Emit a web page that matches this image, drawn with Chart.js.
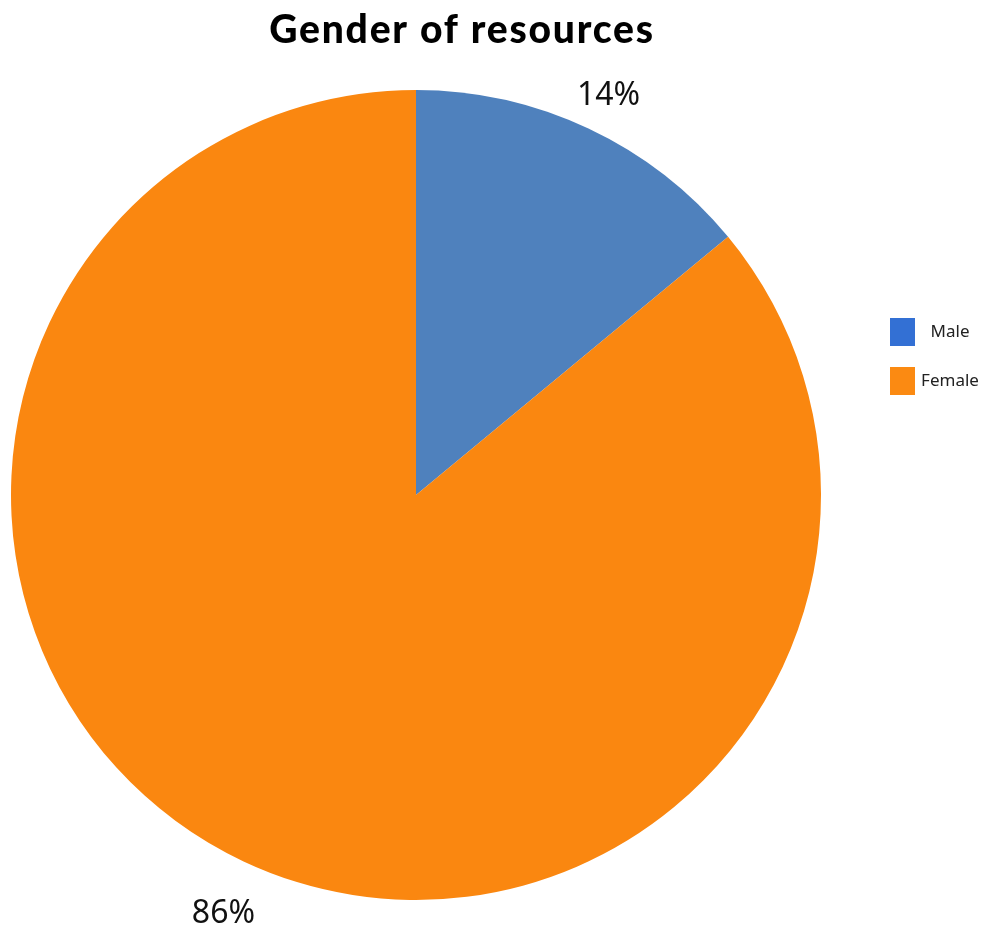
<!DOCTYPE html>
<html>
<head>
<meta charset="utf-8">
<script src="https://cdn.jsdelivr.net/npm/chart.js@4/dist/chart.umd.min.js"></script>
<style>
  html, body { margin: 0; padding: 0; background: #fff; }
  #wrap { width: 987px; height: 929px; position: relative; }
</style>
</head>
<body>
<div id="wrap"><canvas id="pieChart"></canvas></div>
<script>
// data
var labels = ["Male", "Female"];
var values = [14, 86];
var sliceColors = ["#4f81bd", "#fa8710"];
var legendColors = ["#3370d4", "#fb8a12"];
var chartTitle = "Gender of resources";

/* title, percent labels and legend drawn on the canvas */
var extrasPlugin = {
  id: "extras",
  afterDraw: function (chart) {
    var ctx = chart.ctx;
    var meta = chart.getDatasetMeta(0);
    var total = values.reduce(function (a, b) { return a + b; }, 0);

    ctx.save();
    // title
    ctx.fillStyle = "#000";
    ctx.font = "900 39px Lato";
    ctx.letterSpacing = "1.8px";
    ctx.textAlign = "center";
    ctx.textBaseline = "alphabetic";
    ctx.fillText(chartTitle, 462, 43);
    ctx.letterSpacing = "0px";

    // percent labels outside of each slice
    ctx.font = "32px 'Noto Sans'";
    ctx.textBaseline = "middle";
    meta.data.forEach(function (arc, i) {
      var mid = (arc.startAngle + arc.endAngle) / 2;
      var txt = Math.round(values[i] / total * 100) + "%";
      var w = ctx.measureText(txt).width;
      var dx = Math.cos(mid), dy = Math.sin(mid);
      var extra = Math.abs(dx) * w / 2 + Math.abs(dy) * 13;
      var r = arc.outerRadius + 22 + extra;
      ctx.fillStyle = "#111";
      ctx.fillText(txt, arc.x + dx * r, arc.y + dy * r + 10);
    });

    // legend
    ctx.font = "17px 'Noto Sans'";
    labels.forEach(function (lab, i) {
      var y = 318 + i * 49;
      ctx.fillStyle = legendColors[i];
      ctx.fillRect(890, y, 25, 28);
      ctx.fillStyle = "#222";
      ctx.fillText(lab, 950, y + 14);
    });
    ctx.restore();
  }
};

var ctx = document.getElementById("pieChart");
var myChart = new Chart(ctx, {
  type: "pie",
  data: {
    labels: labels,
    datasets: [{
      data: values,
      backgroundColor: sliceColors,
      borderWidth: 0
    }]
  },
  options: {
    responsive: true,
    maintainAspectRatio: false,
    animation: false,
    layout: { padding: { left: 11, right: 166, top: 90, bottom: 29 } },
    plugins: {
      legend: { display: false },
      title: { display: false },
      tooltip: { enabled: false }
    }
  },
  plugins: [extrasPlugin]
});
</script>
</body>
</html>
